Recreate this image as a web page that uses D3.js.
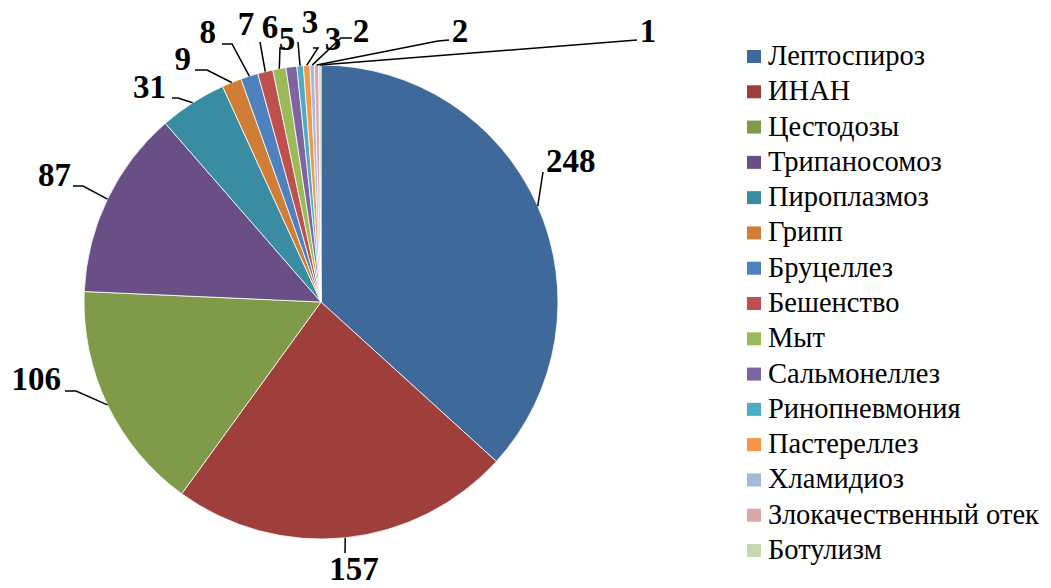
<!DOCTYPE html>
<html>
<head>
<meta charset="utf-8">
<script src="https://cdn.jsdelivr.net/npm/d3@7"></script>
<style>
  html, body { margin: 0; padding: 0; background: #fff; }
  svg { display: block; }
</style>
</head>
<body>
<svg id="chart" width="1051" height="588"></svg>
<script>
// Disease categories and case counts
const categories = [
  "Лептоспироз", "ИНАН", "Цестодозы", "Трипаносомоз", "Пироплазмоз",
  "Грипп", "Бруцеллез", "Бешенство", "Мыт", "Сальмонеллез",
  "Ринопневмония", "Пастереллез", "Хламидиоз", "Злокачественный отек", "Ботулизм"
];
const values = [248, 157, 106, 87, 31, 9, 8, 7, 6, 5, 3, 3, 2, 2, 1];
const colors = [
  "#3F689B", "#9E3F3C", "#7F9A48", "#6A4F86", "#3A8CA3",
  "#D07E35", "#4F81BD", "#C0504D", "#9BBB59", "#8064A2",
  "#4BACC6", "#F79646", "#A5B9DA", "#DAA6A6", "#C6D8AF"
];

// Label placement: text position, anchor and leader bend points (toward the slice)
const labelLayout = [
  { x: 546, y: 172, anchor: "start",  bend: [[543, 172]] },
  { x: 354, y: 580, anchor: "middle", bend: [[345, 553]] },
  { x: 61,  y: 390, anchor: "end",    bend: [[65, 391], [76, 391]] },
  { x: 71,  y: 186, anchor: "end",    bend: [[73, 186], [83, 186]] },
  { x: 166, y: 98,  anchor: "end",    bend: [[172, 98], [178, 98]] },
  { x: 191, y: 70,  anchor: "end",    bend: [[195, 70], [207, 70]] },
  { x: 216, y: 43,  anchor: "end",    bend: [[222, 44], [232, 44]] },
  { x: 246, y: 35,  anchor: "middle", bend: [[260, 42]] },
  { x: 270, y: 38,  anchor: "middle", bend: [[285, 48], [280, 48]] },
  { x: 287, y: 50,  anchor: "middle", bend: null },
  { x: 310, y: 33,  anchor: "middle", bend: [[298, 42]] },
  { x: 333, y: 50,  anchor: "middle", bend: [[313, 48], [318, 48]] },
  { x: 361, y: 42,  anchor: "middle", bend: [[352, 38], [341, 38]] },
  { x: 460, y: 42,  anchor: "middle", bend: [[449, 40], [438, 41]] },
  { x: 648, y: 42,  anchor: "middle", bend: [[637, 40]] }
];

const svg = d3.select("#chart");
const cx = 321, cy = 302, radius = 237;

const pie = d3.pie().sort(null).value(d => d)(values);
const arc = d3.arc().innerRadius(0).outerRadius(radius);

const g = svg.append("g").attr("transform", `translate(${cx},${cy})`);

g.selectAll("path.slice")
  .data(pie)
  .join("path")
  .attr("class", "slice")
  .attr("d", arc)
  .attr("fill", (d, i) => colors[i])
  .attr("stroke", "#fff")
  .attr("stroke-width", 0.8);

// Leader lines from slice edge to the label
const edgePoint = d => {
  const a = (d.startAngle + d.endAngle) / 2;
  return [cx + radius * Math.sin(a), cy - radius * Math.cos(a)];
};

const line = d3.line();
pie.forEach((d, i) => {
  const L = labelLayout[i];
  if (!L.bend) return;
  const pts = L.bend.concat([edgePoint(d)]);
  svg.append("path")
    .attr("d", line(pts))
    .attr("fill", "none")
    .attr("stroke", "#000")
    .attr("stroke-width", 1.5);
});

svg.selectAll("text.val")
  .data(pie)
  .join("text")
  .attr("class", "val")
  .attr("x", (d, i) => labelLayout[i].x)
  .attr("y", (d, i) => labelLayout[i].y)
  .attr("text-anchor", (d, i) => labelLayout[i].anchor)
  .attr("font-family", "'Liberation Serif', 'Times New Roman', serif")
  .attr("font-weight", "bold")
  .attr("font-size", 33)
  .attr("fill", "#000")
  .text(d => d.data);

// Legend
const legendY = d3.scaleLinear().domain([0, categories.length - 1]).range([65, 559]);
const legend = svg.append("g");
categories.forEach((c, i) => {
  const y = legendY(i);
  legend.append("rect")
    .attr("x", 747).attr("y", y - 15)
    .attr("width", 14).attr("height", 13)
    .attr("fill", colors[i]);
  legend.append("text")
    .attr("x", 768).attr("y", y)
    .attr("font-family", "'Liberation Serif', 'Times New Roman', serif")
    .attr("font-size", 28.5)
    .attr("fill", "#000")
    .text(c);
});
</script>
</body>
</html>
